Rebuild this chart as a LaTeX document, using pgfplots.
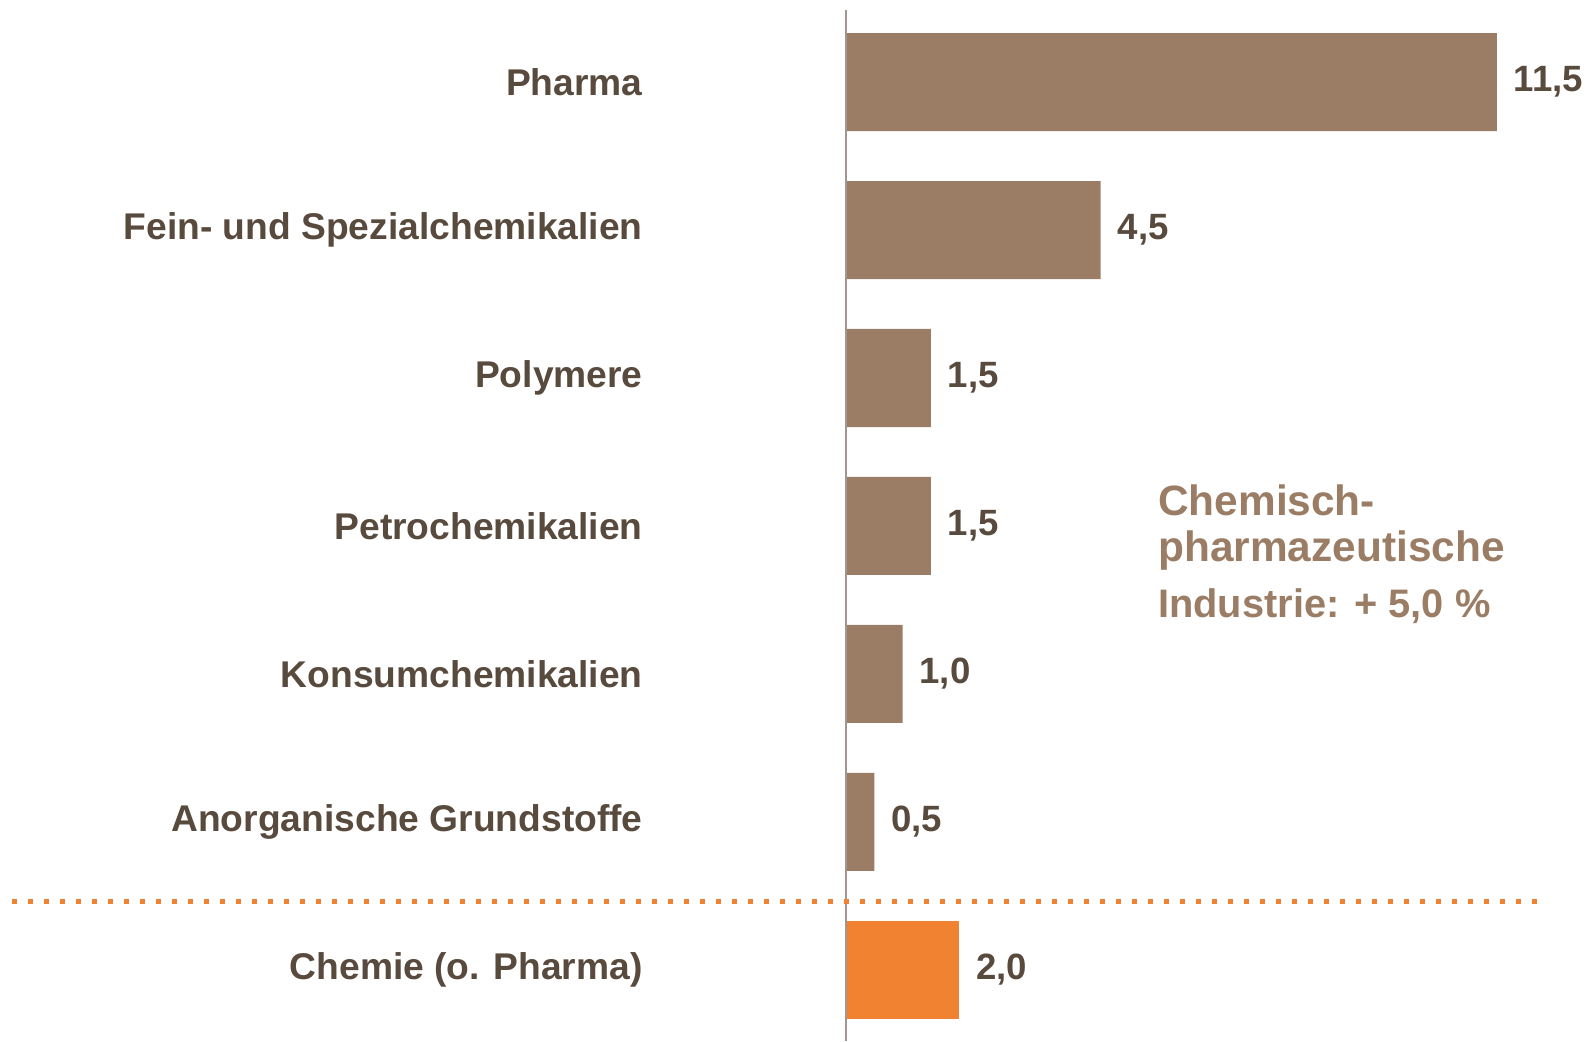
\documentclass[border=0pt]{standalone}
\usepackage{pgfplots}
\pgfplotsset{compat=1.18}
\usepackage{fontspec}
\setmainfont{Liberation Sans}
\definecolor{barbrown}{HTML}{9A7D64}
\definecolor{barorange}{HTML}{F08232}
\definecolor{txt}{HTML}{584A3D}
\definecolor{axgray}{HTML}{A09890}
\begin{document}
\begin{tikzpicture}
\begin{axis}[
  at={(0,0)}, anchor=south west,
  scale only axis,
  width=794pt, height=520.5pt,
  xmin=-14.947, xmax=13.110,
  ymin=-0.554, ymax=6.480,
  y dir=reverse,
  hide x axis,
  axis y line*=left,
  y axis line style={draw=none},
  clip=false,
  xbar, bar shift=0pt, bar width=49pt,
  ytick={0,1,2,3,4,5,6},
  yticklabels={Pharma,Fein- und Spezialchemikalien,Polymere,Petrochemikalien,Konsumchemikalien,Anorganische Grundstoffe,Chemie (o. Pharma)},
  major tick length=0pt,
  ytick style={draw=none},
  yticklabel style={anchor=east, inner sep=0pt, xshift=321.5pt, font=\fontsize{18.6}{22}\selectfont\bfseries, text=txt},
  nodes near coords,
  every node near coord/.append style={anchor=west, inner sep=0pt, xshift=8.3pt, font=\fontsize{18.3}{22}\selectfont\bfseries, text=txt, /pgf/number format/assume math mode=true, /pgf/number format/use comma, /pgf/number format/fixed, /pgf/number format/fixed zerofill, /pgf/number format/precision=1},
]
\addplot[fill=barbrown, draw=none] coordinates {(11.5,0) (4.5,1) (1.5,2) (1.5,3) (1.0,4) (0.5,5)};
\addplot[fill=barorange, draw=none] coordinates {(2.0,6)};
\draw[axgray, line width=0.75pt] (axis cs:0,-0.486) -- (axis cs:0,6.480);
\draw[barorange, line width=2.5pt, dash pattern=on 2.5pt off 5.5pt] (axis cs:-14.73,5.54) -- (axis cs:12.26,5.54);
\node[anchor=base west, inner sep=0pt, text=barbrown, font=\fontsize{21.2}{25}\selectfont\bfseries] at (axis cs:5.51,2.926) {Chemisch-};
\node[anchor=base west, inner sep=0pt, text=barbrown, font=\fontsize{21.2}{25}\selectfont\bfseries] at (axis cs:5.51,3.243) {pharmazeutische};
\node[anchor=base west, inner sep=0pt, text=barbrown, font=\fontsize{19.9}{24}\selectfont\bfseries] at (axis cs:5.51,3.615) {Industrie: + 5,0 \%};
\end{axis}
\pgfresetboundingbox
\path[use as bounding box] (0,0) rectangle (794pt,520.5pt);
\end{tikzpicture}
\end{document}
